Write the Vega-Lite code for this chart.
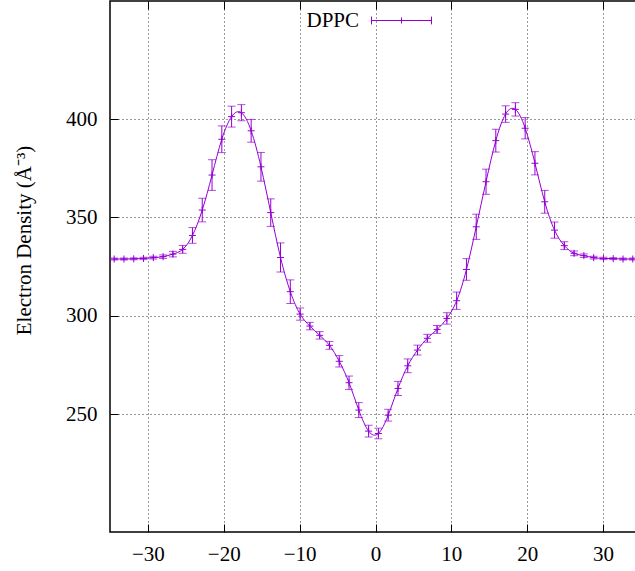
{
  "$schema": "https://vega.github.io/schema/vega-lite/v6.json",
  "width": 531,
  "height": 531,
  "autosize": {"type": "none"},
  "padding": {"left": 110, "top": 1, "right": 0, "bottom": 39},
  "background": "#ffffff",
  "config": {
    "view": {"stroke": "#000000", "strokeWidth": 1.5},
    "font": "Liberation Serif",
    "axis": {
      "domain": false,
      "labelFont": "Liberation Serif",
      "labelFontSize": 21,
      "labelColor": "#000000",
      "tickColor": "#000000",
      "tickWidth": 1,
      "tickSize": -8,
      "gridColor": "#333333",
      "gridDash": [1, 3],
      "gridWidth": 1,
      "titleFont": "Liberation Serif",
      "titleFontWeight": "normal",
      "titleColor": "#000000"
    }
  },
  "data": {
    "values": [
      {"z": -34.45, "density": 328.8, "err": 0.5, "series": "DPPC"},
      {"z": -33.16, "density": 328.8, "err": 0.5, "series": "DPPC"},
      {"z": -31.87, "density": 328.9, "err": 0.5, "series": "DPPC"},
      {"z": -30.58, "density": 329.1, "err": 0.6, "series": "DPPC"},
      {"z": -29.29, "density": 329.5, "err": 0.7, "series": "DPPC"},
      {"z": -28.00, "density": 330.0, "err": 0.9, "series": "DPPC"},
      {"z": -26.71, "density": 331.3, "err": 1.4, "series": "DPPC"},
      {"z": -25.42, "density": 333.7, "err": 2.0, "series": "DPPC"},
      {"z": -24.13, "density": 340.8, "err": 4.0, "series": "DPPC"},
      {"z": -22.84, "density": 353.7, "err": 6.0, "series": "DPPC"},
      {"z": -21.55, "density": 371.5, "err": 7.8, "series": "DPPC"},
      {"z": -20.26, "density": 389.7, "err": 6.8, "series": "DPPC"},
      {"z": -18.97, "density": 401.2, "err": 5.3, "series": "DPPC"},
      {"z": -17.68, "density": 403.2, "err": 4.1, "series": "DPPC"},
      {"z": -16.39, "density": 394.0, "err": 5.8, "series": "DPPC"},
      {"z": -15.10, "density": 375.7, "err": 7.3, "series": "DPPC"},
      {"z": -13.81, "density": 352.4, "err": 7.0, "series": "DPPC"},
      {"z": -12.52, "density": 329.6, "err": 7.4, "series": "DPPC"},
      {"z": -11.23, "density": 312.2, "err": 6.0, "series": "DPPC"},
      {"z": -9.94, "density": 300.8, "err": 3.1, "series": "DPPC"},
      {"z": -8.65, "density": 294.7, "err": 1.9, "series": "DPPC"},
      {"z": -7.36, "density": 290.0, "err": 1.9, "series": "DPPC"},
      {"z": -6.07, "density": 284.9, "err": 2.0, "series": "DPPC"},
      {"z": -4.78, "density": 276.8, "err": 2.9, "series": "DPPC"},
      {"z": -3.49, "density": 265.9, "err": 3.4, "series": "DPPC"},
      {"z": -2.20, "density": 252.0, "err": 3.8, "series": "DPPC"},
      {"z": -0.91, "density": 241.3, "err": 3.0, "series": "DPPC"},
      {"z": 0.38, "density": 240.1, "err": 2.7, "series": "DPPC"},
      {"z": 1.67, "density": 249.4, "err": 3.0, "series": "DPPC"},
      {"z": 2.96, "density": 263.0, "err": 3.6, "series": "DPPC"},
      {"z": 4.25, "density": 274.5, "err": 3.5, "series": "DPPC"},
      {"z": 5.54, "density": 282.5, "err": 2.5, "series": "DPPC"},
      {"z": 6.83, "density": 288.5, "err": 2.0, "series": "DPPC"},
      {"z": 8.12, "density": 293.0, "err": 2.0, "series": "DPPC"},
      {"z": 9.41, "density": 298.6, "err": 2.9, "series": "DPPC"},
      {"z": 10.70, "density": 307.6, "err": 4.4, "series": "DPPC"},
      {"z": 11.99, "density": 323.5, "err": 5.5, "series": "DPPC"},
      {"z": 13.28, "density": 345.2, "err": 6.4, "series": "DPPC"},
      {"z": 14.57, "density": 368.1, "err": 6.4, "series": "DPPC"},
      {"z": 15.86, "density": 389.0, "err": 5.8, "series": "DPPC"},
      {"z": 17.15, "density": 402.5, "err": 4.2, "series": "DPPC"},
      {"z": 18.44, "density": 404.9, "err": 3.4, "series": "DPPC"},
      {"z": 19.73, "density": 395.3, "err": 5.4, "series": "DPPC"},
      {"z": 21.02, "density": 377.5, "err": 5.9, "series": "DPPC"},
      {"z": 22.31, "density": 357.9, "err": 5.8, "series": "DPPC"},
      {"z": 23.60, "density": 343.5, "err": 4.1, "series": "DPPC"},
      {"z": 24.89, "density": 335.6, "err": 2.0, "series": "DPPC"},
      {"z": 26.18, "density": 331.7, "err": 1.2, "series": "DPPC"},
      {"z": 27.47, "density": 330.5, "err": 0.9, "series": "DPPC"},
      {"z": 28.76, "density": 329.5, "err": 0.7, "series": "DPPC"},
      {"z": 30.05, "density": 329.1, "err": 0.6, "series": "DPPC"},
      {"z": 31.34, "density": 329.0, "err": 0.5, "series": "DPPC"},
      {"z": 32.63, "density": 328.8, "err": 0.5, "series": "DPPC"},
      {"z": 33.92, "density": 328.8, "err": 0.5, "series": "DPPC"}
    ]
  },
  "resolve": {"axis": {"x": "independent"}},
  "layer": [
    {
      "mark": {"type": "line", "interpolate": "natural", "strokeWidth": 1, "clip": true},
      "encoding": {
        "x": {
          "field": "z", "type": "quantitative",
          "scale": {"domain": [-35, 35], "nice": false, "zero": false},
          "axis": {"orient": "bottom", "values": [-30, -20, -10, 0, 10, 20, 30], "title": null, "labelPadding": 19, "grid": true}
        },
        "y": {
          "field": "density", "type": "quantitative",
          "title": "Electron Density (Å⁻³)",
          "scale": {"domain": [190, 460], "nice": false, "zero": false},
          "axis": {
            "values": [250, 300, 350, 400],
            "grid": true,
            "labelPadding": 21,
            "titleFontSize": 21,
            "titleX": -80,
            "titleY": 239,
            "titleAngle": 270,
            "titleAlign": "center",
            "titleBaseline": "alphabetic"
          }
        },
        "color": {
          "field": "series", "type": "nominal",
          "scale": {"range": ["#9400d3"]},
          "legend": {
            "orient": "none",
            "legendX": 261,
            "legendY": -11,
            "title": null,
            "labelFont": "Liberation Serif",
            "labelFontSize": 21,
            "labelColor": "#000000",
            "labelAlign": "right",
            "labelBaseline": "middle",
            "labelOffset": -73,
            "symbolType": "M-1,0H1M-1,-0.13V0.13M1,-0.13V0.13M0,-0.1V0.1",
            "symbolSize": 3600,
            "symbolStrokeWidth": 1,
            "symbolFillColor": "transparent",
            "padding": 0
          }
        }
      }
    },
    {
      "mark": {"type": "errorbar", "ticks": {"size": 8}, "color": "#9400d3", "thickness": 1},
      "encoding": {
        "x": {"field": "z", "type": "quantitative", "axis": null},
        "y": {"field": "density", "type": "quantitative", "title": "Electron Density (Å⁻³)"},
        "yError": {"field": "err"}
      }
    },
    {
      "mark": {"type": "point", "shape": "M-1,0H1M0,-1V1", "size": 49, "filled": false, "strokeWidth": 1, "color": "#9400d3", "opacity": 1},
      "encoding": {
        "x": {
          "field": "z", "type": "quantitative",
          "axis": {"orient": "top", "values": [-30, -20, -10, 0, 10, 20, 30], "labels": false, "grid": false, "title": null}
        },
        "y": {"field": "density", "type": "quantitative", "title": "Electron Density (Å⁻³)"}
      }
    }
  ]
}
